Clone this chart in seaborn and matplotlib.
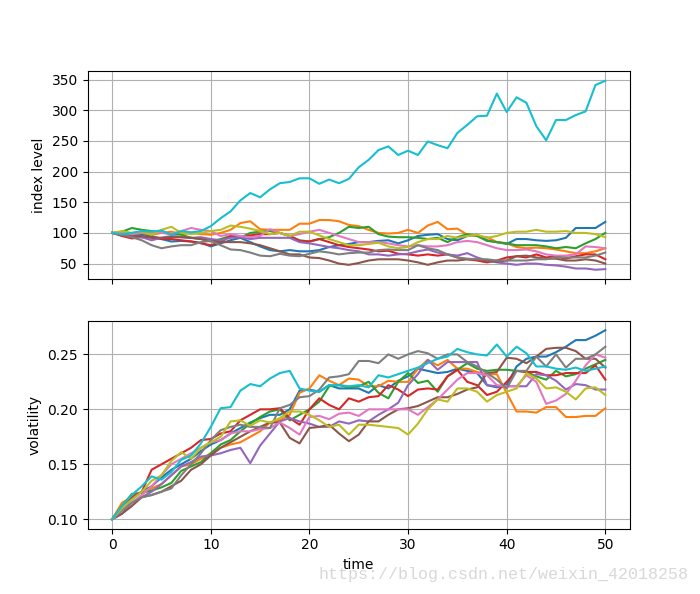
import numpy as np
import pandas as pd
import seaborn as sns
import matplotlib.pyplot as plt

# time axis and path names
time = list(range(51))
paths = [f"path {i}" for i in range(10)]
colors = ["#1f77b4", "#ff7f0e", "#2ca02c", "#d62728", "#9467bd",
          "#8c564b", "#e377c2", "#7f7f7f", "#bcbd22", "#17becf"]

# index level per path
S0 = [100, 97, 96, 98, 95, 90, 86, 87, 86, 84,
      78, 83, 88, 92, 85, 78, 72, 70, 72, 70,
      70, 72, 77, 80, 82, 85, 85, 87, 88, 83,
      88, 95, 97, 98, 90, 88, 95, 97, 88, 85,
      82, 90, 90, 88, 87, 88, 92, 108, 108, 108, 118]
S1 = [100, 101, 99, 100, 97, 100, 102, 98, 100, 98,
      97, 100, 105, 116, 119, 106, 105, 105, 105, 115,
      115, 121, 121, 119, 113, 111, 105, 100, 99, 100,
      105, 100, 112, 118, 106, 107, 97, 95, 93, 85,
      83, 77, 75, 76, 75, 73, 70, 67, 67, 70, 75]
S2 = [100, 102, 108, 105, 103, 101, 98, 97, 92, 90,
      86, 90, 95, 92, 100, 102, 103, 100, 95, 88,
      86, 90, 93, 100, 110, 108, 110, 98, 94, 93,
      93, 92, 90, 92, 85, 93, 98, 95, 87, 85,
      83, 80, 80, 80, 78, 75, 77, 75, 83, 90, 100]
S3 = [100, 95, 91, 93, 92, 90, 90, 88, 86, 83,
      80, 85, 95, 93, 96, 98, 98, 100, 95, 87,
      86, 90, 85, 80, 77, 75, 73, 70, 71, 66,
      65, 63, 65, 63, 65, 60, 57, 55, 52, 55,
      60, 62, 60, 65, 60, 62, 58, 62, 65, 65, 57]
S4 = [100, 98, 95, 93, 88, 92, 95, 93, 92, 93,
      90, 88, 92, 93, 90, 92, 92, 92, 92, 85,
      83, 80, 77, 75, 72, 70, 65, 65, 63, 65,
      66, 70, 73, 68, 65, 63, 67, 60, 55, 52,
      50, 48, 50, 50, 48, 47, 45, 42, 42, 40, 41]
S5 = [100, 97, 95, 95, 93, 92, 93, 93, 92, 90,
      87, 85, 85, 85, 83, 80, 75, 70, 65, 65,
      60, 59, 55, 50, 48, 51, 55, 57, 57, 57,
      55, 52, 48, 52, 55, 55, 57, 57, 55, 53,
      55, 62, 63, 60, 58, 58, 55, 55, 57, 55, 50]
S6 = [100, 100, 98, 100, 102, 100, 98, 103, 108, 105,
      103, 95, 98, 95, 93, 95, 106, 100, 95, 98,
      102, 105, 100, 95, 90, 85, 85, 85, 83, 80,
      78, 80, 78, 78, 80, 85, 87, 85, 80, 75,
      72, 72, 73, 70, 65, 63, 63, 65, 78, 77, 75]
S7 = [100, 97, 93, 88, 80, 75, 78, 80, 80, 85,
      87, 80, 73, 72, 68, 63, 62, 66, 63, 62,
      66, 70, 68, 65, 67, 68, 68, 72, 73, 72,
      72, 80, 75, 72, 65, 60, 58, 57, 57, 55,
      55, 55, 55, 57, 57, 60, 60, 60, 60, 63, 68]
S8 = [100, 103, 100, 102, 97, 105, 110, 100, 98, 100,
      103, 105, 112, 110, 107, 103, 98, 100, 95, 102,
      102, 96, 90, 85, 80, 80, 82, 84, 78, 75,
      77, 85, 90, 90, 95, 92, 95, 97, 92, 95,
      100, 102, 102, 105, 102, 102, 103, 100, 100, 98, 93]
S9 = [100, 98, 100, 103, 102, 104, 97, 103, 101, 103,
      111, 124, 135, 153, 165, 158, 171, 181, 183, 189,
      189, 180, 187, 181, 188, 207, 219, 235, 241, 227,
      234, 227, 249, 243, 238, 263, 276, 290, 291, 327,
      297, 321, 312, 274, 251, 284, 284, 292, 298, 341, 348]

# volatility per path
V0 = [.100, .110, .118, .125, .130, .138, .145, .150, .155, .162,
      .168, .172, .178, .183, .188, .192, .195, .195, .200, .217,
      .218, .216, .222, .219, .219, .219, .215, .222, .219, .226,
      .230, .237, .235, .233, .234, .237, .235, .233, .222, .220,
      .222, .239, .246, .248, .248, .252, .257, .263, .263, .267, .272]
V1 = [.100, .115, .120, .125, .128, .132, .140, .148, .150, .155,
      .160, .165, .168, .170, .175, .180, .188, .190, .195, .215,
      .219, .231, .226, .222, .228, .227, .221, .221, .226, .225,
      .225, .237, .245, .240, .245, .237, .237, .234, .232, .232,
      .215, .198, .198, .197, .202, .202, .193, .193, .194, .194, .201]
V2 = [.100, .112, .123, .124, .126, .129, .133, .144, .148, .152,
      .160, .168, .172, .180, .187, .193, .198, .200, .190, .195,
      .200, .207, .221, .222, .220, .221, .225, .215, .210, .225,
      .233, .224, .226, .216, .230, .236, .242, .237, .235, .236,
      .236, .235, .234, .230, .227, .235, .230, .232, .237, .241, .245]
V3 = [.100, .110, .120, .125, .145, .150, .155, .160, .165, .172,
      .173, .178, .180, .190, .195, .200, .200, .201, .192, .186,
      .200, .210, .204, .200, .210, .207, .211, .212, .222, .218,
      .212, .218, .219, .218, .230, .236, .225, .222, .213, .216,
      .225, .235, .234, .234, .231, .231, .233, .233, .233, .240, .227]
V4 = [.100, .105, .115, .120, .125, .132, .140, .148, .152, .157,
      .158, .160, .163, .165, .151, .167, .178, .189, .192, .189,
      .187, .184, .184, .189, .187, .190, .189, .195, .200, .206,
      .222, .232, .245, .236, .243, .243, .243, .243, .222, .221,
      .221, .221, .221, .232, .231, .226, .218, .223, .222, .218, .218]
V5 = [.100, .105, .112, .120, .122, .125, .130, .135, .145, .150,
      .158, .165, .170, .175, .180, .184, .188, .188, .174, .169,
      .183, .184, .186, .178, .171, .177, .189, .189, .195, .200,
      .201, .203, .207, .211, .211, .214, .218, .220, .233, .234,
      .247, .246, .242, .248, .255, .256, .256, .253, .246, .246, .238]
V6 = [.100, .108, .115, .122, .130, .140, .150, .155, .160, .165,
      .170, .172, .178, .180, .180, .182, .183, .188, .183, .177,
      .193, .194, .191, .196, .197, .194, .200, .200, .200, .200,
      .200, .195, .202, .209, .218, .227, .233, .233, .231, .222,
      .221, .221, .231, .225, .205, .208, .214, .226, .240, .250, .247]
V7 = [.100, .108, .115, .120, .122, .125, .128, .140, .150, .160,
      .172, .181, .184, .186, .184, .184, .183, .201, .204, .211,
      .212, .218, .229, .230, .232, .244, .244, .242, .250, .246,
      .250, .253, .251, .246, .250, .250, .243, .239, .233, .227,
      .219, .235, .235, .248, .239, .250, .238, .246, .246, .250, .257]
V8 = [.100, .110, .118, .125, .135, .140, .153, .161, .155, .165,
      .170, .175, .189, .190, .185, .190, .188, .192, .198, .198,
      .195, .190, .184, .186, .177, .186, .186, .185, .184, .183,
      .177, .187, .200, .209, .207, .219, .219, .216, .207, .213,
      .216, .219, .233, .228, .219, .220, .216, .209, .219, .220, .213]
V9 = [.100, .112, .122, .130, .139, .136, .143, .154, .158, .169,
      .184, .201, .202, .217, .223, .221, .228, .233, .235, .219,
      .217, .216, .222, .222, .221, .222, .220, .231, .229, .232,
      .235, .238, .242, .246, .248, .255, .252, .250, .249, .259,
      .248, .257, .251, .239, .239, .237, .236, .238, .235, .237, .239]

index_paths = [S0, S1, S2, S3, S4, S5, S6, S7, S8, S9]
vol_paths = [V0, V1, V2, V3, V4, V5, V6, V7, V8, V9]

# long-form table for seaborn
rows = []
for name, s, v in zip(paths, index_paths, vol_paths):
    for t, si, vi in zip(time, s, v):
        rows.append((name, t, si, vi))
df = pd.DataFrame(rows, columns=["path", "time", "index level", "volatility"])

fig, (ax1, ax2) = plt.subplots(2, 1, sharex=True, figsize=(7, 5.94), dpi=100)

sns.lineplot(data=df, x="time", y="index level", hue="path", hue_order=paths,
             palette=colors, legend=False, ax=ax1, linewidth=1.5)
ax1.set_xlabel("")
ax1.set_ylabel("index level")
ax1.grid(True)

sns.lineplot(data=df, x="time", y="volatility", hue="path", hue_order=paths,
             palette=colors, legend=False, ax=ax2, linewidth=1.5)
ax2.set_xlabel("time")
ax2.set_ylabel("volatility")
ax2.grid(True)

# watermark of the source image
fig.text(0.983, 0.032, "https://blog.csdn.net/weixin_42018258", ha="right", va="center",
         fontsize=12, color="#d8d8d8", family="Liberation Mono")

plt.savefig("out.png", dpi=100)
